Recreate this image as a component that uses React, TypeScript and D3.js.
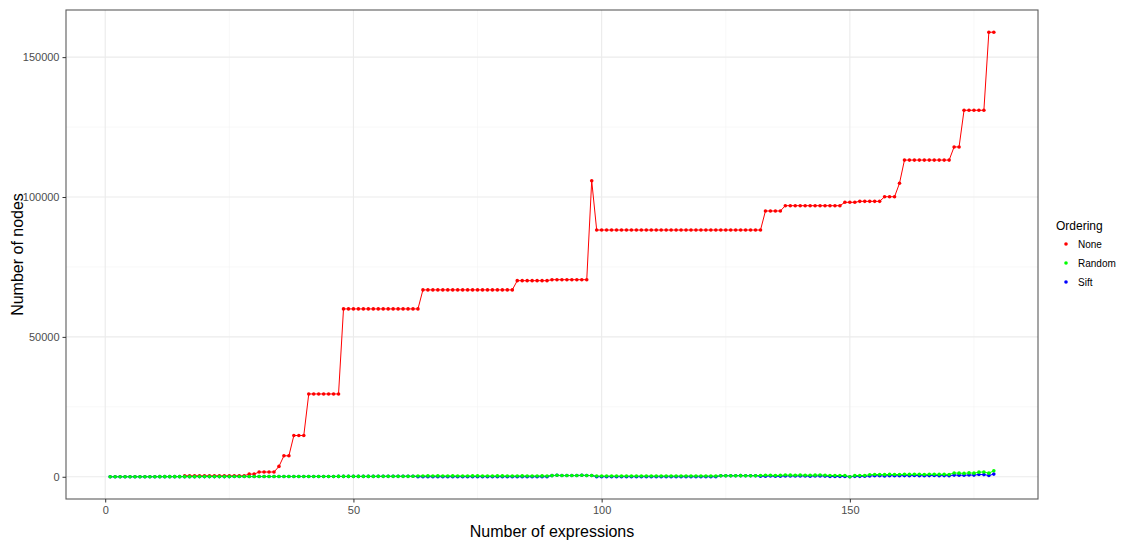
import { useEffect, useRef } from "react";
import * as d3 from "d3";

// expression counts 1..179 shared by every ordering
const expressions: number[] = Array.from({ length: 179 }, (_, i) => i + 1);

// "None" ordering starts at expression 16
const noneStart = 16;
const noneNodes: number[] = [
  350, 350, 350, 350, 350, 350, 350, 350, 350, 350, 350, 350, 350,
  950, 950,
  1700, 1700, 1700, 1700,
  3700,
  7500, 7500,
  14750, 14750, 14750,
  29600, 29600, 29600, 29600, 29600, 29600, 29600,
  60000, 60000, 60000, 60000, 60000, 60000, 60000, 60000, 60000, 60000, 60000, 60000, 60000, 60000, 60000, 60000,
  66800, 66800, 66800, 66800, 66800, 66800, 66800, 66800, 66800, 66800, 66800, 66800, 66800, 66800, 66800, 66800, 66800, 66800, 66800,
  70100, 70100, 70100, 70100, 70100, 70100, 70100,
  70450, 70450, 70450, 70450, 70450, 70450, 70450, 70450,
  105800,
  88200, 88200, 88200, 88200, 88200, 88200, 88200, 88200, 88200, 88200, 88200, 88200, 88200, 88200, 88200, 88200, 88200,
  88200, 88200, 88200, 88200, 88200, 88200, 88200, 88200, 88200, 88200, 88200, 88200, 88200, 88200, 88200, 88200, 88200,
  95000, 95000, 95000, 95000,
  96900, 96900, 96900, 96900, 96900, 96900, 96900, 96900, 96900, 96900, 96900, 96900,
  98100, 98100, 98100,
  98450, 98450, 98450, 98450, 98450,
  100100, 100100, 100100,
  104900,
  113200, 113200, 113200, 113200, 113200, 113200, 113200, 113200, 113200, 113200,
  117900, 117900,
  131000, 131000, 131000, 131000, 131000,
  158900, 158900,
];

const randomNodes: number[] = [
  10, 12, 15, 18, 20, 22, 25, 28, 30, 32, 35, 38, 40, 42, 45, 48, 50, 52, 55, 58,
  60, 62, 65, 68, 70, 72, 75, 78, 80, 82, 85, 88, 90, 92, 95, 98, 100, 102, 105, 108,
  110, 112, 115, 118, 120, 122, 125, 128, 130, 132, 135, 138, 140, 142, 145, 148, 150, 152, 155, 158,
  160, 165,
  // 63..89
  300, 290, 310, 300, 320, 290, 300, 310, 300, 290, 300, 320, 310, 300, 290, 300, 310, 320, 300, 290,
  300, 310, 300, 290, 300, 310, 300,
  // 90..98
  420, 520, 430, 440, 450, 430, 540, 450, 440,
  // 99..123
  280, 270, 280, 290, 270, 280, 290, 280, 270, 280, 290, 280, 270, 280, 290, 280, 270, 280, 290, 280,
  270, 280, 290, 280, 270,
  // 124..131
  350, 380, 360, 370, 400, 380, 360, 390,
  // 132..149
  480, 520, 560, 470, 500, 620, 580, 550, 600, 560, 520, 580, 610, 540, 450, 470, 440, 460,
  // 150..153
  30, 420, 450, 470,
  // 154..170
  700, 820, 780, 760, 850, 820, 800, 880, 840, 900, 860, 820, 880, 900, 850, 870, 820,
  // 171..179
  1350, 1300, 1200, 1380, 1300, 1650, 1700, 1300, 2150,
];

const siftNodes: number[] = [
  10, 12, 15, 18, 20, 22, 25, 28, 30, 32, 35, 38, 40, 42, 45, 48, 50, 52, 55, 58,
  60, 62, 65, 68, 70, 72, 75, 78, 80, 82, 85, 88, 90, 92, 95, 98, 100, 102, 105, 108,
  110, 112, 115, 118, 120, 122, 125, 128, 130, 132, 135, 138, 140, 142, 145, 148, 150, 152, 155, 158,
  160, 165,
  // 63..89
  30, 25, 40, 30, 35, 20, 30, 40, 30, 25, 30, 35, 40, 30, 25, 30, 35, 40, 30, 25,
  30, 35, 30, 25, 30, 35, 30,
  // 90..98
  420, 520, 430, 440, 450, 430, 540, 450, 440,
  // 99..123
  20, 15, 20, 25, 15, 20, 25, 20, 15, 20, 25, 20, 15, 20, 25, 20, 15, 20, 25, 20,
  15, 20, 25, 20, 15,
  // 124..131
  350, 380, 360, 370, 400, 380, 360, 390,
  // 132..149
  180, 220, 260, 170, 200, 300, 280, 250, 300, 260, 220, 280, 310, 240, 100, 120, 90, 110,
  // 150..153
  0, 150, 160, 170,
  // 154..170
  300, 380, 340, 320, 400, 360, 350, 420, 380, 440, 400, 360, 420, 440, 400, 420, 380,
  // 171..179
  600, 580, 550, 620, 600, 800, 780, 450, 950,
];

const seriesNames = ["None", "Random", "Sift"];
const seriesColors = ["#FF0000", "#00FF00", "#0000FF"];

const xTicks = [0, 50, 100, 150];
const xMinor = [25, 75, 125, 175];
const yTicks = [0, 50000, 100000, 150000];
const yMinor = [25000, 75000, 125000];

type Pt = { x: number; y: number };

const App = () => {
  const ref = useRef<SVGSVGElement>(null);

  useEffect(() => {
    const width = 1125;
    const height = 543;
    const margin = { top: 10, right: 87, bottom: 44, left: 66 };

    const svg = d3.select(ref.current);
    svg.selectAll("*").remove();
    svg.attr("width", width).attr("height", height);

    const series: Pt[][] = [
      noneNodes.map((v, i) => ({ x: noneStart + i, y: v })),
      randomNodes.map((v, i) => ({ x: expressions[i], y: v })),
      siftNodes.map((v, i) => ({ x: expressions[i], y: v })),
    ];

    // ggplot style 5% expansion
    const xExt = d3.extent(expressions) as [number, number];
    const allY = series.flat().map((d) => d.y);
    const yExt = [d3.min(allY)!, d3.max(allY)!];
    const xPad = (xExt[1] - xExt[0]) * 0.05;
    const yPad = (yExt[1] - yExt[0]) * 0.05;

    const x = d3
      .scaleLinear()
      .domain([xExt[0] - xPad, xExt[1] + xPad])
      .range([margin.left, width - margin.right]);
    const y = d3
      .scaleLinear()
      .domain([yExt[0] - yPad, yExt[1] + yPad])
      .range([height - margin.bottom, margin.top]);

    const top = margin.top;
    const bottom = height - margin.bottom;
    const left = margin.left;
    const right = width - margin.right;

    // grid
    const grid = svg.append("g");
    grid
      .selectAll(".xminor")
      .data(xMinor)
      .join("line")
      .attr("x1", (d) => x(d))
      .attr("x2", (d) => x(d))
      .attr("y1", top)
      .attr("y2", bottom)
      .attr("stroke", "#F3F3F3")
      .attr("stroke-width", 0.6);
    grid
      .selectAll(".yminor")
      .data(yMinor)
      .join("line")
      .attr("x1", left)
      .attr("x2", right)
      .attr("y1", (d) => y(d))
      .attr("y2", (d) => y(d))
      .attr("stroke", "#F3F3F3")
      .attr("stroke-width", 0.6);
    grid
      .selectAll(".xmajor")
      .data(xTicks)
      .join("line")
      .attr("x1", (d) => x(d))
      .attr("x2", (d) => x(d))
      .attr("y1", top)
      .attr("y2", bottom)
      .attr("stroke", "#EBEBEB")
      .attr("stroke-width", 1.1);
    grid
      .selectAll(".ymajor")
      .data(yTicks)
      .join("line")
      .attr("x1", left)
      .attr("x2", right)
      .attr("y1", (d) => y(d))
      .attr("y2", (d) => y(d))
      .attr("stroke", "#EBEBEB")
      .attr("stroke-width", 1.1);

    // lines and points; Random points end up on top like in the original
    const line = d3
      .line<Pt>()
      .x((d) => x(d.x))
      .y((d) => y(d.y));

    [0, 2, 1].forEach((si) => {
      svg
        .append("path")
        .datum(series[si])
        .attr("fill", "none")
        .attr("stroke", seriesColors[si])
        .attr("stroke-width", 1)
        .attr("d", line);
    });
    [0, 2, 1].forEach((si) => {
      svg
        .append("g")
        .selectAll("circle")
        .data(series[si])
        .join("circle")
        .attr("cx", (d) => x(d.x))
        .attr("cy", (d) => y(d.y))
        .attr("r", 1.8)
        .attr("fill", seriesColors[si]);
    });

    // panel border
    svg
      .append("rect")
      .attr("x", left)
      .attr("y", top)
      .attr("width", right - left)
      .attr("height", bottom - top)
      .attr("fill", "none")
      .attr("stroke", "#333333")
      .attr("stroke-width", 1.1)
      .attr("stroke-opacity", 0.8);

    // axes
    const xAxis = svg
      .append("g")
      .attr("transform", `translate(0,${bottom})`)
      .call(d3.axisBottom(x).tickValues(xTicks).tickSize(3.5).tickPadding(4));
    const yAxis = svg
      .append("g")
      .attr("transform", `translate(${left},0)`)
      .call(d3.axisLeft(y).tickValues(yTicks).tickSize(3.5).tickPadding(3).tickFormat(d3.format("d")));
    [xAxis, yAxis].forEach((g) => {
      g.select(".domain").remove();
      g.selectAll("line").attr("stroke", "#333333");
      g.selectAll("text")
        .attr("fill", "#4D4D4D")
        .style("font-family", "'Liberation Sans', Arial, sans-serif")
        .style("font-size", "11px");
    });

    // axis titles
    svg
      .append("text")
      .attr("x", (left + right) / 2)
      .attr("y", 537)
      .attr("text-anchor", "middle")
      .style("font-family", "'Liberation Sans', Arial, sans-serif")
      .style("font-size", "16px")
      .attr("fill", "#000")
      .text("Number of expressions");
    svg
      .append("text")
      .attr("transform", `translate(23,${(top + bottom) / 2}) rotate(-90)`)
      .attr("text-anchor", "middle")
      .style("font-family", "'Liberation Sans', Arial, sans-serif")
      .style("font-size", "16px")
      .attr("fill", "#000")
      .text("Number of nodes");

    // legend
    const legend = svg.append("g").attr("transform", "translate(1056,0)");
    legend
      .append("text")
      .attr("x", 0)
      .attr("y", 230)
      .style("font-family", "'Liberation Sans', Arial, sans-serif")
      .style("font-size", "12px")
      .attr("fill", "#000")
      .text("Ordering");
    seriesNames.forEach((name, i) => {
      const cy = 244 + i * 19;
      legend
        .append("circle")
        .attr("cx", 10)
        .attr("cy", cy)
        .attr("r", 1.8)
        .attr("fill", seriesColors[i]);
      legend
        .append("text")
        .attr("x", 22)
        .attr("y", cy + 3.5)
        .style("font-family", "'Liberation Sans', Arial, sans-serif")
        .style("font-size", "10px")
        .attr("fill", "#000")
        .text(name);
    });
  }, []);

  return (
    <svg
      ref={ref}
      style={{ position: "absolute", left: 0, top: 0, background: "#fff" }}
    ></svg>
  );
};

export default App;
